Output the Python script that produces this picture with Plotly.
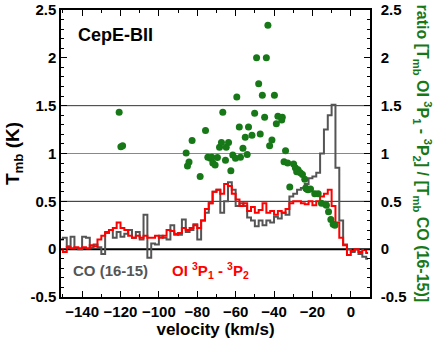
import plotly.graph_objects as go

GREEN = "#167816"
GRAY = "#555555"
RED = "#ff0000"

# channel velocities (km/s), 2 km/s spacing
velocity = list(range(-151, 10, 2))

co_16_15 = [
    0.10, 0.12, 0.03, 0.13, 0.01, 0.00, 0.13, 0.12, 0.02, 0.05,
    0.02, -0.05, 0.17, 0.20, 0.12, 0.18, 0.13, 0.16, 0.20, 0.12,
    0.18, 0.10, 0.36, -0.09, 0.06, 0.05, 0.14, 0.12, 0.10, 0.25,
    0.16, 0.15, 0.31, 0.18, 0.20, 0.26, 0.10, 0.30, 0.38, 0.48,
    0.60, 0.62, 0.38, 0.50, 0.70, 0.62, 0.45, 0.48, 0.45, 0.33,
    0.30, 0.24, 0.30, 0.25, 0.30, 0.28, 0.34, 0.32, 0.38, 0.36,
    0.55, 0.58, 0.62, 0.64, 0.68, 0.74, 0.76, 0.80, 1.00, 1.25,
    1.40, 1.51, 0.85, 0.30, 0.05, 0.00, -0.03, 0.00, -0.05, -0.08,
    -0.10,
]

oi_3p1_3p2 = [
    0.00, -0.03, 0.02, 0.01, 0.02, 0.01, 0.02, 0.01, 0.04, 0.03,
    0.10, 0.14, 0.18, 0.20, 0.22, 0.28, 0.22, 0.20, 0.14, 0.12,
    0.14, 0.12, 0.14, 0.12, 0.12, 0.14, 0.12, 0.14, 0.20, 0.19,
    0.15, 0.17, 0.22, 0.20, 0.22, 0.25, 0.22, 0.30, 0.42, 0.48,
    0.60, 0.62, 0.58, 0.68, 0.66, 0.58, 0.52, 0.45, 0.48, 0.40,
    0.44, 0.38, 0.41, 0.48, 0.38, 0.40, 0.36, 0.40, 0.38, 0.42,
    0.48, 0.50, 0.50, 0.48, 0.47, 0.50, 0.46, 0.50, 0.55, 0.58,
    0.62, 0.45, 0.28, 0.12, 0.04, -0.06, -0.02, 0.00, -0.03, -0.01,
    -0.04,
]

# line ratio OI / CO
ratio_v = [
    -43.2, -49.1, -44.0, -48.0, -59.4, -46.1, -39.8, -120.7, -66.7, -50.1,
    -44.9, -38.0, -35.7, -118.9, -119.8, -75.7, -82.7, -85.8, -84.3, -85.1,
    -78.5, -74.5, -73.1, -72.4, -71.9, -70.7, -69.5, -68.4, -67.4, -64.9,
    -63.7, -65.3, -62.5, -61.5, -60.1, -57.5, -56.2, -55.0, -54.0, -58.1,
    -53.3, -51.5, -47.2, -42.3, -41.1, -38.8, -36.0, -34.0, -34.8, -32.9,
    -29.8, -28.9, -27.5, -28.2, -26.3, -25.2, -31.8, -24.0, -23.5, -23.0,
    -22.3, -21.0, -18.8, -17.0, -15.3, -13.2, -12.7, -11.6, -10.4, -9.2,
    -8.3,
]
ratio = [
    2.34, 2.00, 2.00, 1.73, 1.59, 1.61, 1.61, 1.43, 1.43, 1.42,
    1.38, 1.39, 1.38, 1.08, 1.07, 1.24, 1.135, 1.006, 0.91, 0.87,
    0.76, 0.96, 0.95, 0.96, 0.90, 0.88, 0.957, 1.066, 1.114, 1.066,
    1.114, 0.93, 0.82, 0.985, 0.95, 0.96, 1.055, 1.17, 0.99, 1.276,
    1.276, 1.19, 1.205, 1.08, 1.14, 1.31, 1.35, 1.03, 0.915, 0.90,
    0.89, 0.85, 0.83, 0.81, 0.80, 0.78, 0.65, 0.73, 0.64, 0.63,
    0.62, 0.63, 0.58, 0.58, 0.48, 0.47, 0.46, 0.39, 0.31, 0.26,
    0.25,
]

x_range = [-151, 10]
y_range = [-0.5, 2.5]
y_ticks = [-0.5, 0, 0.5, 1, 1.5, 2, 2.5]
y_tick_text = ["-0.5", "0", "0.5", "1", "1.5", "2", "2.5"]

fig = go.Figure()

for level, color, width in [(0.5, "#222222", 1), (1.0, "#888888", 1), (1.5, "#333333", 1), (0.0, "black", 2)]:
    fig.add_shape(
        type="line", xref="x", yref="y",
        x0=x_range[0], x1=x_range[1], y0=level, y1=level,
        line=dict(color=color, width=width), layer="below",
    )

fig.add_trace(go.Scatter(
    x=velocity, y=co_16_15, mode="lines", line_shape="hvh",
    line=dict(color=GRAY, width=2), showlegend=False,
))
fig.add_trace(go.Scatter(
    x=velocity, y=oi_3p1_3p2, mode="lines", line_shape="hvh",
    line=dict(color=RED, width=2), showlegend=False,
))
fig.add_trace(go.Scatter(
    x=ratio_v, y=ratio, mode="markers",
    marker=dict(color=GREEN, size=7), showlegend=False, yaxis="y2",
))

bold = dict(family="Liberation Sans, Arial", weight="bold", color="black")

fig.update_layout(
    width=436, height=340,
    paper_bgcolor="white", plot_bgcolor="white",
    margin=dict(l=61, r=66, t=10, b=43),
    font=dict(family="Liberation Sans, Arial"),
    xaxis=dict(
        range=x_range, dtick=20, tick0=0, automargin=False,
        ticks="inside", ticklen=6, tickwidth=1, tickcolor="black",
        minor=dict(dtick=10, ticks="inside", ticklen=3, tickcolor="black"),
        showline=True, linecolor="black", linewidth=1.5, mirror="ticks",
        showgrid=False, zeroline=False,
        tickfont=dict(size=15, **bold),
        title=dict(text="velocity (km/s)", font=dict(size=17, **bold), standoff=4),
    ),
    yaxis=dict(
        range=y_range, tickvals=y_ticks, ticktext=y_tick_text, automargin=False,
        ticks="inside", ticklen=6, tickwidth=1, tickcolor="black",
        minor=dict(dtick=0.1, ticks="inside", ticklen=3, tickcolor="black"),
        showline=True, linecolor="black", linewidth=1.5,
        showgrid=False, zeroline=False,
        tickfont=dict(size=15, **bold),
        title=dict(text="T<sub>mb</sub> (K)", font=dict(size=19, **bold), standoff=6),
    ),
    yaxis2=dict(
        range=y_range, tickvals=y_ticks, ticktext=y_tick_text,
        overlaying="y", side="right", automargin=False,
        ticks="inside", ticklen=6, tickwidth=1, tickcolor="black",
        minor=dict(dtick=0.1, ticks="inside", ticklen=3, tickcolor="black"),
        showline=True, linecolor="black", linewidth=1.5,
        showgrid=False, zeroline=False, ticklabelstandoff=6,
        tickfont=dict(size=15, **bold),
    ),
)

fig.add_annotation(
    x=-143, y=2.24, xref="x", yref="y", text="CepE-BII",
    showarrow=False, xanchor="left", yanchor="middle",
    font=dict(size=18, **bold),
)
fig.add_annotation(
    x=-146, y=-0.22, xref="x", yref="y", text="CO (16-15)",
    showarrow=False, xanchor="left", yanchor="middle",
    font=dict(size=15, family="Liberation Sans, Arial", weight="bold", color=GRAY),
)
fig.add_annotation(
    x=-94, y=-0.22, xref="x", yref="y",
    text="OI <sup>3</sup>P<sub>1</sub> - <sup>3</sup>P<sub>2</sub>",
    showarrow=False, xanchor="left", yanchor="middle",
    font=dict(size=15, family="Liberation Sans, Arial", weight="bold", color=RED),
)
fig.add_annotation(
    x=1, y=0.5, xref="paper", yref="paper", xshift=53,
    text="ratio [T<sub>mb</sub> OI <sup>3</sup>P<sub>1</sub> - <sup>3</sup>P<sub>2</sub>] / [T<sub>mb</sub> CO (16-15)]",
    textangle=90, showarrow=False, xanchor="center", yanchor="middle",
    font=dict(size=16, family="Liberation Sans, Arial", weight="bold", color=GREEN),
)

# page body has a default 8px margin; drop it so the figure fills the window
fig.write_html(
    "out.html",
    config={"displayModeBar": False},
    post_script="document.body.style.margin = '0';",
)
